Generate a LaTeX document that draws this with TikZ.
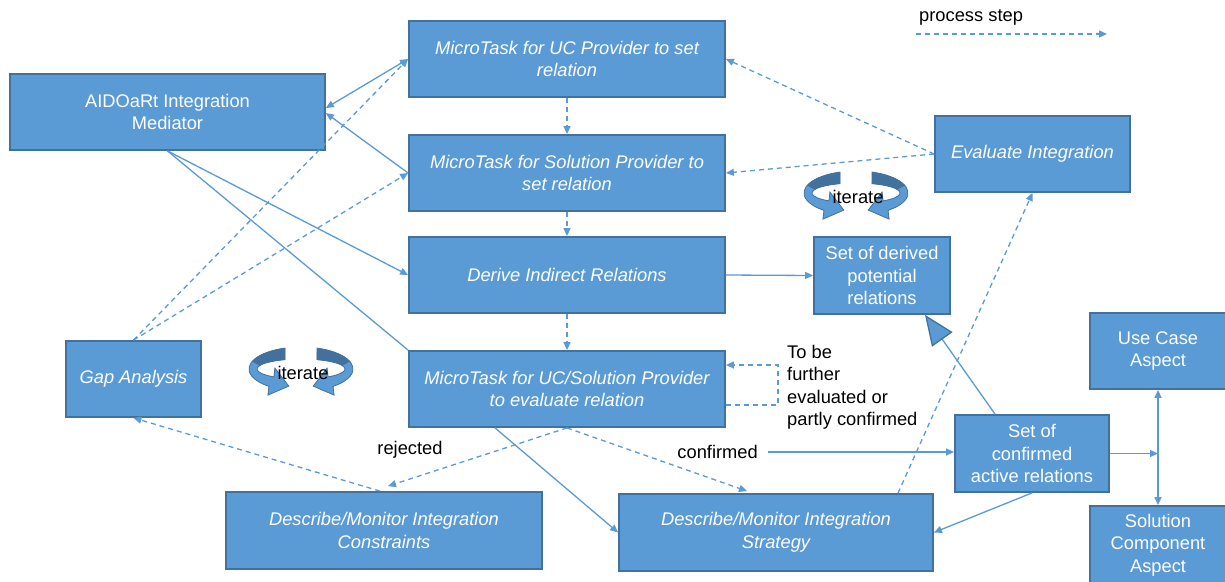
\documentclass[tikz,border=0pt]{standalone}
\usepackage{fontspec}
\setmainfont{Liberation Sans}
\usetikzlibrary{arrows.meta,calc}
\definecolor{boxfill}{HTML}{5B9BD5}
\definecolor{boxedge}{HTML}{41719C}
\definecolor{linec}{HTML}{5B9BD5}

% one half of the "iterate" ring: a curved ribbon ending in an arrow head
\tikzset{iterhalf/.pic={
  \fill[boxfill]
    (-16pt,21.93pt) arc[start angle=107.9, end angle=232, x radius=52pt, y radius=22pt]
    -- (-33.1pt,-25.1pt) -- (-12.2pt,-16.1pt) -- (-26.1pt,1.9pt)
    -- (-27.09pt,-6.88pt) arc[start angle=232, end angle=111.3, x radius=44pt, y radius=10pt] -- cycle;
  \fill[boxedge]
    (-16pt,21.93pt) arc[start angle=107.9, end angle=160, x radius=52pt, y radius=22pt]
    -- (-41.35pt,4.42pt) arc[start angle=160, end angle=111.3, x radius=44pt, y radius=10pt] -- cycle;
  \draw[boxedge, line width=0.8pt]
    (-16pt,21.93pt) arc[start angle=107.9, end angle=232, x radius=52pt, y radius=22pt]
    -- (-33.1pt,-25.1pt) -- (-12.2pt,-16.1pt) -- (-26.1pt,1.9pt)
    -- (-27.09pt,-6.88pt) arc[start angle=232, end angle=111.3, x radius=44pt, y radius=10pt] -- cycle;
}}

\begin{document}
\begin{tikzpicture}[x=1pt,y=1pt,
  >={Triangle[length=8pt,width=7pt]},
  txt/.style={font=\fontsize{18.3}{22.5}\selectfont},
  box/.style={draw=boxedge, fill=boxfill, line width=1.8pt, text=white,
    align=center, inner sep=2pt, txt},
  ibox/.style={box, font=\fontsize{18.3}{22.5}\selectfont\itshape},
  sz/.style 2 args={minimum width=#1pt, minimum height=#2pt},
  line/.style={draw=linec, line width=1.3pt},
  conn/.style={line, ->},
  dconn/.style={conn, dash pattern=on 5pt off 4pt},
  lbl/.style={text=black, inner sep=0pt, txt}
]
\useasboundingbox (0,0) rectangle (1225,-581);
\fill[white] (0,0) rectangle (1225,-581);

% process boxes
\node[box,  sz={315}{76}] (med)       at (167.5,-112) {AIDOaRt Integration\\Mediator};
\node[ibox, sz={316}{76}] (mtuc)      at (567,-59)    {MicroTask for UC Provider to set\\relation};
\node[ibox, sz={316}{76}] (mtsol)     at (567,-173)   {MicroTask for Solution Provider to\\set relation};
\node[ibox, sz={316}{76}] (derive)    at (567,-275)   {Derive Indirect Relations};
\node[ibox, sz={316}{76}] (mteval)    at (567,-389)   {MicroTask for UC/Solution Provider\\to evaluate relation};
\node[ibox, sz={195}{76}] (evalint)   at (1032.5,-154) {Evaluate Integration};
\node[box,  sz={136}{77}] (derived)   at (882,-275.5) {Set of derived\\potential\\relations};
\node[ibox, sz={135}{76}] (gap)       at (133.5,-379) {Gap Analysis};
\node[ibox, sz={316}{77}] (dconstr)   at (384,-530.5) {Describe/Monitor Integration\\Constraints};
\node[ibox, sz={314}{77}] (dstrat)    at (776,-532.5) {Describe/Monitor Integration\\Strategy};
\node[box,  sz={154}{77}] (confirmed) at (1032,-453.5) {Set of\\confirmed\\active relations};
\node[box,  sz={136}{76}] (ucasp)     at (1158,-351)  {Use Case\\Aspect};
\node[box,  sz={136}{78}] (solasp)    at (1158,-545)  {Solution\\Component\\Aspect};

% iterate rings
\path (856,-194) pic {iterhalf} (856,-194) pic[xscale=-1] {iterhalf};
\path (301,-370) pic {iterhalf} (301,-370) pic[xscale=-1] {iterhalf};
\node[lbl] (it1) at (858,-196.5) {iterate};
\node[lbl] (it2) at (303,-373) {iterate};

% labels
\node[lbl] (lrej) at (410,-450) {rejected};
\node[lbl, anchor=east] (lconf) at (758,-452) {confirmed};
\node[lbl, anchor=north west, align=left] (lfurther) at (787,-345)
  {To be\\further\\evaluated or\\partly confirmed};

% legend
\node[lbl, anchor=west] (leg) at (919,-17) {process step};
\coordinate (legA) at (916,-34);
\coordinate (legB) at (1107,-34);
\draw[dconn] (legA) -- (legB);

% mediator links
\draw[line, <->] ([yshift=4pt]med.east) -- (mtuc.west);
\draw[conn] (mtsol.west) -- ([yshift=-1pt]med.east);
\draw[conn] (med.south) -- (derive.west);
\draw[line] (med.south) -- (mteval.north west);

% process steps
\draw[dconn] (gap.north) -- (mtuc.west);
\draw[dconn] (gap.north) -- (mtsol.west);
\draw[dconn] (mtuc.south) -- (mtsol.north);
\draw[dconn] (mtsol.south) -- (derive.north);
\draw[dconn] (derive.south) -- (mteval.north);
\draw[conn] (derive.east) -- (derived.west);
\draw[dconn] (evalint.west) -- (mtuc.east);
\draw[dconn] (evalint.west) -- (mtsol.east);
\draw[dconn] ([yshift=-16pt]mteval.east) -- ++(52,0) |- ([yshift=24pt]mteval.east);
\draw[dconn] (mteval.south) -- ([xshift=4pt,yshift=5pt]dconstr.north);
\draw[dconn] (mteval.south) -- ([xshift=-29pt,yshift=2pt]dstrat.north);
\draw[conn] ([xshift=-72pt]mteval.south) -- (dstrat.west);
\draw[conn] ([xshift=10pt]lconf.east) -- (lconf.east -| confirmed.west);
\draw[dconn] ([xshift=-4pt]dconstr.north) -- (gap.south);
\draw[dconn] ([xshift=122pt]dstrat.north) -- (evalint.south);
\draw[line, -{Triangle[length=30pt,width=25pt,color=boxedge,fill=boxfill]}]
  ([xshift=-37pt]confirmed.north) -- ([xshift=43pt]derived.south);
\draw[conn] (confirmed.south) -- (dstrat.east);
\coordinate (jn) at (ucasp.south |- confirmed.east);
\draw[conn] (confirmed.east) -- (jn);
\draw[line, <->] (ucasp.south) -- (solasp.north);
\end{tikzpicture}
\end{document}
